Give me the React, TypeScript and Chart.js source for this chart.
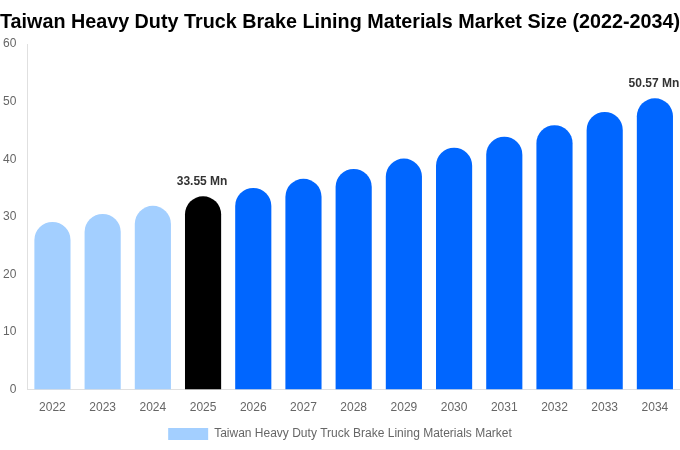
import { useEffect, useRef } from "react";
import { Chart, ChartConfiguration, Plugin, registerables } from "chart.js";

Chart.register(...registerables);

const years = ["2022", "2023", "2024", "2025", "2026", "2027", "2028", "2029", "2030", "2031", "2032", "2033", "2034"];
const marketSize = [29.1, 30.5, 31.9, 33.55, 35.0, 36.6, 38.3, 40.1, 42.0, 43.9, 45.9, 48.2, 50.57];
const labelledYears = ["2025", "2034"];
const barColors = years.map((y) => (y < "2025" ? "#a3cfff" : y === "2025" ? "#000000" : "#0066ff"));

const FONT = "'Liberation Sans', Arial, Helvetica, sans-serif";

// draws "xx.xx Mn" above the highlighted bars
const valueLabels: Plugin<"bar"> = {
  id: "valueLabels",
  afterDatasetsDraw(chart) {
    const ctx = chart.ctx;
    const meta = chart.getDatasetMeta(0);
    ctx.save();
    ctx.font = `bold 12px ${FONT}`;
    ctx.fillStyle = "#333333";
    ctx.textAlign = "center";
    ctx.textBaseline = "bottom";
    meta.data.forEach((bar, i) => {
      if (!labelledYears.includes(years[i])) return;
      ctx.fillText(`${marketSize[i].toFixed(2)} Mn`, bar.x - 1, bar.y - 9);
    });
    ctx.restore();
  },
};

export default function App() {
  const canvasRef = useRef<HTMLCanvasElement>(null);
  const chartRef = useRef<Chart | null>(null);

  useEffect(() => {
    document.body.style.margin = "0";
    if (!canvasRef.current) return;
    if (chartRef.current) chartRef.current.destroy();
    const ctx = canvasRef.current.getContext("2d");
    if (!ctx) return;

    const config: ChartConfiguration<"bar"> = {
      type: "bar",
      data: {
        labels: years,
        datasets: [
          {
            label: "Taiwan Heavy Duty Truck Brake Lining Materials Market",
            data: marketSize,
            backgroundColor: barColors,
            borderRadius: { topLeft: 18, topRight: 18 },
            borderSkipped: false,
            barPercentage: 0.72,
            categoryPercentage: 1,
          },
        ],
      },
      options: {
        animation: false,
        responsive: false,
        layout: { padding: { left: 0, right: 0, top: 0, bottom: 0 } },
        plugins: {
          title: {
            display: true,
            text: "Taiwan Heavy Duty Truck Brake Lining Materials Market Size (2022-2034)",
            color: "#000000",
            font: { family: FONT, size: 20, weight: "bold" },
            padding: { top: 10, bottom: 10 },
          },
          legend: {
            position: "bottom",
            labels: {
              color: "#666666",
              font: { family: FONT, size: 12 },
              boxWidth: 40,
              boxHeight: 12,
              generateLabels: () => [
                {
                  text: "Taiwan Heavy Duty Truck Brake Lining Materials Market",
                  fillStyle: "#a3cfff",
                  strokeStyle: "#a3cfff",
                  lineWidth: 0,
                  fontColor: "#666666",
                  datasetIndex: 0,
                },
              ],
            },
          },
          tooltip: { enabled: false },
        },
        scales: {
          y: {
            min: 0,
            max: 60,
            ticks: { stepSize: 10, color: "#666666", font: { family: FONT, size: 12 } },
            grid: { display: false },
            border: { display: true, color: "#e0e0e0" },
          },
          x: {
            ticks: { color: "#666666", font: { family: FONT, size: 12 } },
            grid: { display: false },
            border: { display: true, color: "#e0e0e0" },
          },
        },
      },
      plugins: [valueLabels],
    };

    chartRef.current = new Chart(ctx, config);
    return () => {
      if (chartRef.current) chartRef.current.destroy();
    };
  }, []);

  return <canvas ref={canvasRef} width={680} height={450} style={{ display: "block" }} />;
}
